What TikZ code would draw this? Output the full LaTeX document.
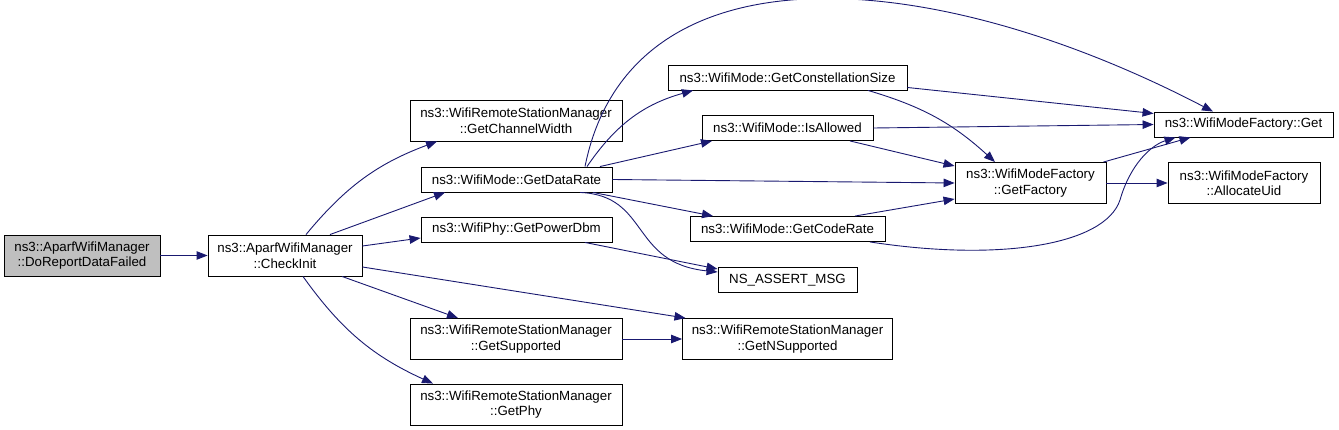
\documentclass[tikz,border=0pt]{standalone}
\usepackage{fontspec}
\setmainfont{Liberation Sans}
\usepackage{tikz}
\usetikzlibrary{arrows.meta}
\usepackage{xcolor}
\definecolor{edgeblue}{RGB}{25,25,112}
\definecolor{startgray}{RGB}{191,191,191}
\tikzset{
  fn/.style={draw, rectangle, fill=white, line width=0.9pt, inner xsep=2pt, inner ysep=1pt,
    minimum height=25pt, align=center, font=\fontsize{13.3}{15.5}\selectfont},
  fn2/.style={fn, minimum height=41pt},
  call/.style={-{Triangle[length=11pt,width=8.5pt]}, edgeblue, line width=0.9pt}
}

\begin{document}
\begin{tikzpicture}[x=1pt, y=-1pt]
  \useasboundingbox (0,0) rectangle (1339,430);
  % Call graph of DoReportDataFailed
  \node[fn2, fill=startgray, minimum width=156pt] (dr) at (82,255.5) {ns3::AparfWifiManager\\::DoReportDataFailed};
  \node[fn2, minimum width=154pt] (ci) at (285,255.5) {ns3::AparfWifiManager\\::CheckInit};

  \node[fn2, minimum width=212pt] (gcw) at (516,120.5) {ns3::WifiRemoteStationManager\\::GetChannelWidth};
  \node[fn, minimum width=191pt] (gdr) at (516.5,179.5) {ns3::WifiMode::GetDataRate};
  \node[fn, minimum width=191pt] (gpd) at (516.5,229.5) {ns3::WifiPhy::GetPowerDbm};
  \node[fn2, minimum width=212pt] (gs) at (516,339) {ns3::WifiRemoteStationManager\\::GetSupported};
  \node[fn2, minimum width=212pt] (gp) at (516,404.5) {ns3::WifiRemoteStationManager\\::GetPhy};

  \node[fn, minimum width=239pt] (gcs) at (787.5,77.5) {ns3::WifiMode::GetConstellationSize};
  \node[fn, minimum width=171pt] (ia) at (787.5,128) {ns3::WifiMode::IsAllowed};
  \node[fn, minimum width=195pt] (gcr) at (787.5,229) {ns3::WifiMode::GetCodeRate};
  \node[fn, minimum width=139pt] (nsa) at (787.5,280) {NS\_ASSERT\_MSG};
  \node[fn2, minimum width=210pt] (gns) at (787.5,339) {ns3::WifiRemoteStationManager\\::GetNSupported};

  \node[fn2, minimum width=151pt] (gf) at (1030.5,183) {ns3::WifiModeFactory\\::GetFactory};
  \node[fn, minimum width=179pt] (get) at (1243.5,124.5) {ns3::WifiModeFactory::Get};
  \node[fn2, minimum width=152pt] (au) at (1244,183) {ns3::WifiModeFactory\\::AllocateUid};

  % calls out of CheckInit
  \draw[call] (dr) -- (ci);
  \draw[call] ([xshift=21pt]ci.north) to[bend left=15] ([xshift=-79pt]gcw.south);
  \draw[call] ([xshift=45pt]ci.north) -- ([xshift=-71.5pt]gdr.south);
  \draw[call] ([yshift=9.5pt]ci.east) -- ([yshift=-8.5pt]gpd.west);
  \draw[call] ([xshift=57pt]ci.south) -- ([xshift=-58pt]gs.north);
  \draw[call] ([xshift=18pt]ci.south) to[bend right=15] ([xshift=-83pt]gp.north);
  \draw[call] ([yshift=-11.5pt]ci.east) -- ([xshift=-102pt]gns.north);
  \draw[call] (gs) -- (gns);

  % calls out of GetDataRate
  \draw[call] ([xshift=70.5pt]gdr.north) to[bend left=20] ([xshift=-94.5pt]gcs.south);
  \draw[call] ([xshift=68.5pt]gdr.north) .. controls (630,-58) and (930,-36) .. ([xshift=-30.5pt]get.north);
  \draw[call] ([xshift=83.5pt]gdr.north) -- ([xshift=-75.5pt]ia.south);
  \draw[call] (gdr.east) -- (gf.west);
  \draw[call] ([xshift=76.5pt]gdr.south) -- ([xshift=-74.5pt]gcr.north);
  \draw[call] ([xshift=63.5pt]gdr.south) .. controls +(70,3) and +(-88,-9) .. ([yshift=8pt]nsa.west);
  \draw[call] ([xshift=68.5pt]gpd.south) -- ([yshift=11pt]nsa.west);

  % calls into the factory
  \draw[call] ([yshift=-10pt]gcs.east) -- ([yshift=11pt]get.west);
  \draw[call] ([xshift=80.5pt]gcs.south) to[bend left=13] ([xshift=-35.5pt]gf.north);
  \draw[call] (ia.east) -- (get.west);
  \draw[call] ([xshift=62.5pt]ia.south) -- ([yshift=17pt]gf.west);
  \draw[call] ([xshift=67.5pt]gcr.north) -- ([yshift=-16pt]gf.west);
  \draw[call] ([xshift=82.5pt]gcr.south) .. controls +(130,20) and +(-15,45) .. (1120,200)
    .. controls +(10,-35) and +(-25,8) .. ([xshift=-68pt]get.south);
  \draw[call] ([xshift=-3pt]gf.north east) -- ([xshift=-53pt]get.south);
  \draw[call] (gf) -- (au);
\end{tikzpicture}
\end{document}
